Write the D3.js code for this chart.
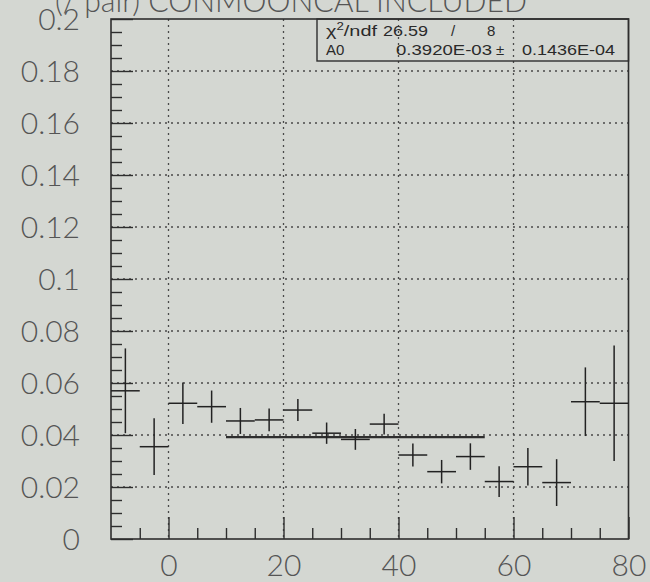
<!DOCTYPE html>
<html>
<head>
<meta charset="utf-8">
<script src="https://cdn.jsdelivr.net/npm/d3@7/dist/d3.min.js"></script>
<style>
  html, body { margin: 0; padding: 0; background: #d4d7d2; }
  svg { display: block; }
</style>
</head>
<body>
<svg id="chart" width="650" height="582"></svg>
<script>
// Histogram bins (5 units wide), contents and errors
const binLow = [-10, -5, 0, 5, 10, 15, 20, 25, 30, 35, 40, 45, 50, 55, 60, 65, 70, 75];
const binWidth = 5;
const values = [0.0570, 0.0355, 0.0522, 0.0509, 0.0454, 0.0458, 0.0496, 0.0407, 0.0383,
                0.0442, 0.0323, 0.0259, 0.0317, 0.0221, 0.0278, 0.0217, 0.0528, 0.0522];
const errors = [0.0163, 0.0109, 0.0080, 0.0062, 0.0050, 0.0044, 0.0042, 0.0041, 0.0040,
                0.0040, 0.0044, 0.0045, 0.0051, 0.0059, 0.0072, 0.0090, 0.0132, 0.0222];

// Constant fit result (parameter A0, histogram shown per 100)
const fitA0 = 0.3920e-3;
const fitA0Err = 0.1436e-4;
const fitScale = 100;
const fitRange = [10, 55];
const chi2 = 26.59, ndf = 8;

const xTicks = [0, 20, 40, 60, 80];
const yTicks = [0, 0.02, 0.04, 0.06, 0.08, 0.1, 0.12, 0.14, 0.16, 0.18, 0.2];
const yTickLabels = ["0", "0.02", "0.04", "0.06", "0.08", "0.1", "0.12", "0.14", "0.16", "0.18", "0.2"];
const title = "(/ pair)  CONMOONCAL INCLUDED";

const svg = d3.select("#chart");
const ink = "#2e2e2e";
const labelInk = "#555";
const labelFont = "Lato, 'Open Sans', 'Liberation Sans', sans-serif";

const frame = { left: 111, right: 628.5, top: 19, bottom: 539 };
const x = d3.scaleLinear().domain([-10, 80]).range([frame.left, frame.right]);
const y = d3.scaleLinear().domain([0, 0.2]).range([frame.bottom, frame.top]);

// Dotted grid at the major ticks
const grid = svg.append("g").attr("stroke", "#4a4a4a").attr("stroke-width", 1.3)
  .attr("stroke-dasharray", "2,4");
grid.selectAll("line.gx").data(xTicks.filter(d => d > -10 && d < 80)).join("line")
  .attr("x1", d => x(d)).attr("x2", d => x(d))
  .attr("y1", frame.top).attr("y2", frame.bottom);
grid.selectAll("line.gy").data(yTicks.filter(d => d > 0 && d < 0.2)).join("line")
  .attr("x1", frame.left).attr("x2", frame.right)
  .attr("y1", d => y(d)).attr("y2", d => y(d));

// Minor ticks (inward)
const xMinor = d3.range(-5, 80, 5).filter(d => d % 20 !== 0);
const yMinor = d3.range(1, 40).map(i => i * 0.005).filter(d => Math.abs(d / 0.02 - Math.round(d / 0.02)) > 1e-6);

const minorX = svg.append("g").attr("transform", `translate(0,${frame.bottom})`)
  .call(d3.axisBottom(x).tickValues(xMinor).tickSizeInner(-11).tickSizeOuter(0).tickFormat(""));
const minorY = svg.append("g").attr("transform", `translate(${frame.left},0)`)
  .call(d3.axisLeft(y).tickValues(yMinor).tickSizeInner(-11).tickSizeOuter(0).tickFormat(""));

// Major ticks with labels
const axX = svg.append("g").attr("transform", `translate(0,${frame.bottom})`)
  .call(d3.axisBottom(x).tickValues(xTicks).tickSizeInner(-22).tickSizeOuter(0)
    .tickPadding(16).tickFormat(d3.format("d")));
const axY = svg.append("g").attr("transform", `translate(${frame.left},0)`)
  .call(d3.axisLeft(y).tickValues(yTicks).tickSizeInner(-22).tickSizeOuter(0)
    .tickPadding(31).tickFormat((d, i) => yTickLabels[i]));

[minorX, minorY, axX, axY].forEach(g => {
  g.select(".domain").remove();
  g.selectAll(".tick line").attr("stroke", ink).attr("stroke-width", 1.4);
});
[axX, axY].forEach(g => {
  g.selectAll(".tick text")
    .attr("fill", labelInk)
    .style("font-family", labelFont)
    .style("font-weight", 300)
    .style("font-size", "30px");
});
axY.selectAll(".tick text").attr("dy", "0.36em");
axX.selectAll(".tick text").attr("y", 37).attr("dy", 0);

// Frame
svg.append("rect")
  .attr("x", frame.left).attr("y", frame.top)
  .attr("width", frame.right - frame.left).attr("height", frame.bottom - frame.top)
  .attr("fill", "none").attr("stroke", ink).attr("stroke-width", 1.6);

// Fitted constant
svg.append("line")
  .attr("x1", x(fitRange[0])).attr("x2", x(fitRange[1]))
  .attr("y1", y(fitA0 * fitScale)).attr("y2", y(fitA0 * fitScale))
  .attr("stroke", ink).attr("stroke-width", 2.2);

// Data points: horizontal bin-width bar and vertical error bar
const pts = svg.append("g").attr("stroke", "#222").attr("stroke-width", 1.5);
binLow.forEach((lo, i) => {
  const c = lo + binWidth / 2;
  pts.append("line")
    .attr("x1", x(lo)).attr("x2", x(lo + binWidth))
    .attr("y1", y(values[i])).attr("y2", y(values[i]));
  pts.append("line")
    .attr("x1", x(c)).attr("x2", x(c))
    .attr("y1", y(values[i] + errors[i])).attr("y2", y(values[i] - errors[i]));
});

// Fit statistics box
const box = { left: 317, right: frame.right, top: frame.top, bottom: 61 };
svg.append("rect")
  .attr("x", box.left).attr("y", box.top)
  .attr("width", box.right - box.left).attr("height", box.bottom - box.top)
  .attr("fill", "none").attr("stroke", ink).attr("stroke-width", 1.4);

const statFont = "'Liberation Sans', Arial, sans-serif";
const stat = svg.append("g").attr("fill", "#2a2a2a")
  .style("font-family", statFont).style("font-size", "15px");

const l1 = stat.append("text").attr("x", 326).attr("y", 36)
  .attr("textLength", 51).attr("lengthAdjust", "spacingAndGlyphs");
l1.append("tspan").text("χ");
l1.append("tspan").attr("dy", -6).style("font-size", "10px").text("2");
l1.append("tspan").attr("dy", 6).text("/ndf");
stat.append("text").attr("x", 383).attr("y", 36)
  .attr("textLength", 45).attr("lengthAdjust", "spacingAndGlyphs").text(chi2.toFixed(2));
stat.append("text").attr("x", 451).attr("y", 36).text("/");
stat.append("text").attr("x", 487).attr("y", 36).text(ndf);

const sci = v => {
  const e = Math.floor(Math.log10(Math.abs(v))) + 1;
  const m = v / Math.pow(10, e);
  const sign = e < 0 ? "-" : "+";
  return m.toFixed(4) + "E" + sign + String(Math.abs(e)).padStart(2, "0");
};
stat.append("text").attr("x", 326).attr("y", 55).text("A0");
stat.append("text").attr("x", 396).attr("y", 55)
  .attr("textLength", 96).attr("lengthAdjust", "spacingAndGlyphs").text(sci(fitA0));
stat.append("text").attr("x", 496).attr("y", 55).text("±");
stat.append("text").attr("x", 522).attr("y", 55)
  .attr("textLength", 93).attr("lengthAdjust", "spacingAndGlyphs").text(sci(fitA0Err));

// Title, partly above the top edge
svg.append("text")
  .attr("x", 55).attr("y", 12)
  .attr("fill", labelInk)
  .attr("textLength", 472).attr("lengthAdjust", "spacingAndGlyphs")
  .style("font-family", labelFont).style("font-weight", 300).style("font-size", "31px")
  .text(title);
</script>
</body>
</html>
